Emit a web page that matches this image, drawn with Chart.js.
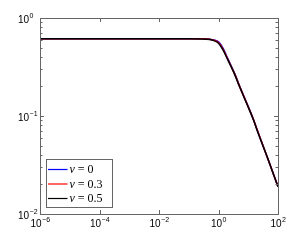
<html lang="en">
<head>
    <meta charset="UTF-8">
    <title>Log-log response</title>
    <script src="https://cdn.jsdelivr.net/npm/chart.js"></script>
    <style>
        html, body { margin: 0; padding: 0; background: #fff; }
        canvas { display: block; }
    </style>
</head>
<body>
    <canvas id="chart" width="308" height="241"></canvas>

    <script>
        // frequencies (x) and the three curves
        const xValues = [1e-6, 1e-5, 1e-4, 1e-3, 1e-2, 0.1, 0.3, 0.5, 0.7, 1, 1.4, 2, 3.6, 5, 10, 15, 20, 50, 100];
        const nu0  = [0.615, 0.615, 0.615, 0.615, 0.615, 0.615, 0.614, 0.608, 0.597, 0.572, 0.495, 0.392, 0.266, 0.206, 0.125, 0.092, 0.072, 0.034, 0.019];
        const nu03 = [0.615, 0.615, 0.615, 0.615, 0.615, 0.615, 0.613, 0.606, 0.593, 0.563, 0.485, 0.386, 0.263, 0.204, 0.124, 0.092, 0.072, 0.034, 0.019];
        const nu05 = [0.615, 0.615, 0.615, 0.615, 0.615, 0.615, 0.612, 0.603, 0.588, 0.552, 0.475, 0.38, 0.26, 0.202, 0.123, 0.091, 0.071, 0.034, 0.019];
        const seriesLabels = ['0', '0.3', '0.5'];
        const seriesColors = ['#0000ff', '#ff0000', '#000000'];
        const xTickExps = [-6, -4, -2, 0, 2];
        const yTickExps = [-2, -1, 0];

        const axisColor = '#666';

        function pts(ys) {
            return xValues.map((x, i) => ({ x: x, y: ys[i] }));
        }

        // "10" with a raised exponent
        function drawPow(ctx, exp, x, y, align) {
            ctx.save();
            ctx.fillStyle = '#000';
            ctx.textBaseline = 'alphabetic';
            ctx.font = '10px "Liberation Sans", Arial, sans-serif';
            const wBase = ctx.measureText('10').width;
            ctx.font = '7px "Liberation Sans", Arial, sans-serif';
            const e = String(exp).replace('-', '\u2212');
            const wExp = ctx.measureText(e).width;
            let x0 = x;
            if (align === 'center') x0 = x - (wBase + wExp) / 2;
            ctx.font = '10px "Liberation Sans", Arial, sans-serif';
            ctx.fillText('10', x0, y);
            ctx.font = '7px "Liberation Sans", Arial, sans-serif';
            ctx.fillText(e, x0 + wBase + 0.5, y - 5);
            ctx.restore();
        }

        const framePlugin = {
            id: 'frame',
            afterDraw(chart) {
                const ctx = chart.ctx;
                const a = chart.chartArea;
                const xs = chart.scales.x;
                const ys = chart.scales.y;
                ctx.save();
                ctx.strokeStyle = axisColor;
                ctx.lineWidth = 1;

                // inward ticks, x majors every two decades
                ctx.beginPath();
                xTickExps.forEach(p => {
                    const px = Math.round(xs.getPixelForValue(Math.pow(10, p))) + 0.5;
                    ctx.moveTo(px, a.bottom); ctx.lineTo(px, a.bottom - 4);
                    ctx.moveTo(px, a.top); ctx.lineTo(px, a.top + 4);
                });
                // y majors and minors
                for (let p = -2; p <= 0; p++) {
                    for (let m = 1; m <= 9; m++) {
                        const v = m * Math.pow(10, p);
                        if (v > 1) break;
                        const len = m === 1 ? 4 : 2.5;
                        const py = Math.round(ys.getPixelForValue(v)) + 0.5;
                        ctx.moveTo(a.left, py); ctx.lineTo(a.left + len, py);
                        ctx.moveTo(a.right, py); ctx.lineTo(a.right - len, py);
                    }
                }
                ctx.stroke();

                // box
                ctx.strokeRect(Math.round(a.left) + 0.5, Math.round(a.top) + 0.5,
                    Math.round(a.right - a.left), Math.round(a.bottom - a.top));

                // tick labels
                xTickExps.forEach(p => {
                    drawPow(ctx, p, xs.getPixelForValue(Math.pow(10, p)), a.bottom + 13, 'center');
                });
                yTickExps.forEach(p => {
                    drawPow(ctx, p, 18, ys.getPixelForValue(Math.pow(10, p)) + 5, 'left');
                });

                // legend in the lower-left corner
                const bx = a.left + 6.5, by = 159.5, bw = 66, bh = 48;
                ctx.fillStyle = '#fff';
                ctx.fillRect(bx, by, bw, bh);
                ctx.strokeStyle = axisColor;
                ctx.strokeRect(bx, by, bw, bh);
                chart.data.datasets.forEach((ds, i) => {
                    const yy = 169.5 + i * 14.5;
                    ctx.strokeStyle = ds.borderColor;
                    ctx.lineWidth = 1.2;
                    ctx.beginPath();
                    ctx.moveTo(bx + 1.5, yy); ctx.lineTo(bx + 21, yy);
                    ctx.stroke();
                    ctx.fillStyle = '#000';
                    ctx.textBaseline = 'middle';
                    ctx.font = 'italic 12px "Liberation Serif", "DejaVu Serif", serif';
                    let tx = bx + 23;
                    ctx.fillText('\u03bd', tx, yy + 0.5);
                    tx += ctx.measureText('\u03bd').width + 3;
                    ctx.font = '12px "Liberation Serif", "DejaVu Serif", serif';
                    ctx.fillText('=', tx, yy + 0.5);
                    tx += ctx.measureText('=').width + 3;
                    ctx.fillText(seriesLabels[i], tx, yy + 0.5);
                });
                ctx.restore();
            }
        };

        const datasets = [nu0, nu03, nu05].map((ys, i) => ({
            label: '\u03bd = ' + seriesLabels[i],
            data: pts(ys),
            borderColor: seriesColors[i],
            backgroundColor: seriesColors[i],
            borderWidth: 1.5,
            pointRadius: 0,
            fill: false,
            cubicInterpolationMode: 'monotone',
            order: 2 - i
        }));

        new Chart(document.getElementById('chart'), {
            type: 'line',
            data: { datasets: datasets },
            options: {
                responsive: false,
                animation: false,
                devicePixelRatio: 1,
                layout: { padding: { top: 18, right: 30, left: 0, bottom: 0 } },
                scales: {
                    x: {
                        type: 'logarithmic',
                        min: 1e-6,
                        max: 1e2,
                        grid: { display: false },
                        border: { display: false },
                        ticks: { display: false },
                        afterFit(scale) { scale.height = 27; }
                    },
                    y: {
                        type: 'logarithmic',
                        min: 0.01,
                        max: 1,
                        grid: { display: false },
                        border: { display: false },
                        ticks: { display: false },
                        afterFit(scale) { scale.width = 40; }
                    }
                },
                plugins: {
                    legend: { display: false },
                    tooltip: { enabled: false }
                }
            },
            plugins: [framePlugin]
        });
    </script>
</body>
</html>
